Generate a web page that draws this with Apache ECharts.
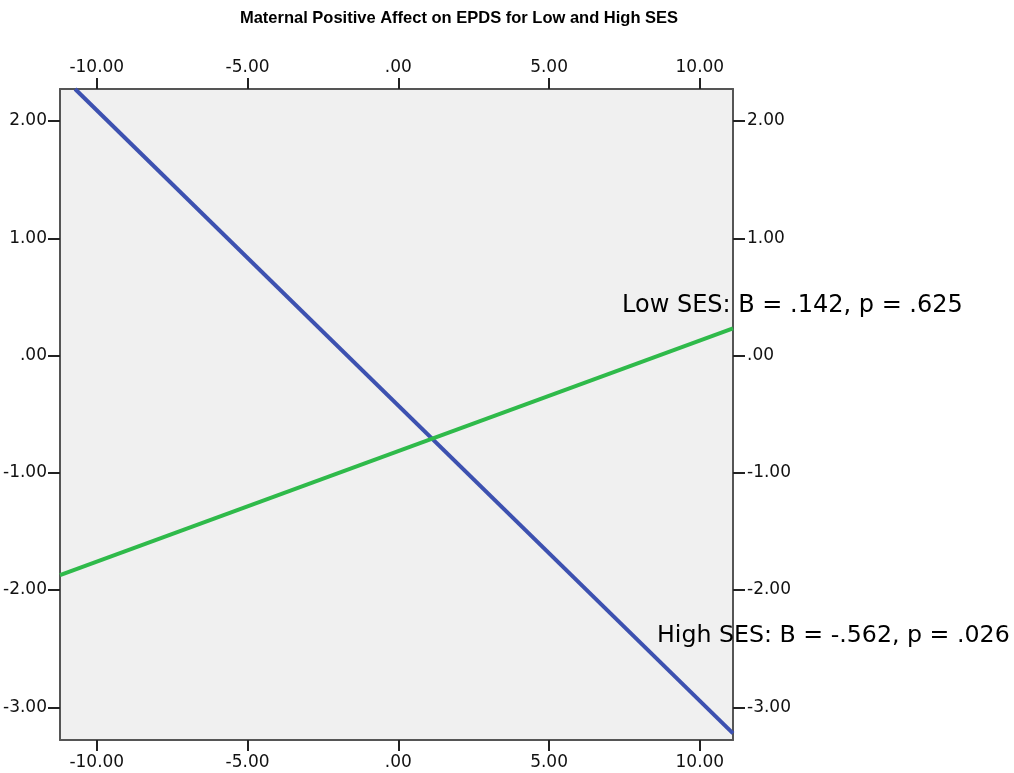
<!DOCTYPE html>
<html>
<head>
<meta charset="utf-8">
<script src="https://cdn.jsdelivr.net/npm/echarts@6/dist/echarts.min.js"></script>
<style>
  html, body { margin: 0; padding: 0; background: #fff; }
  #chart { width: 1014px; height: 773px; }
</style>
</head>
<body>
<div id="chart"></div>
<script>
  // axis ranges and ticks
  const xRange = [-11.22, 11.10];
  const yRange = [-3.279, 2.273];
  const xTicks = [-10, -5, 0, 5, 10];
  const yTicks = [2, 1, 0, -1, -2, -3];

  // fitted lines (x, y)
  const highSes = [[-10.72, 2.273], [11.10, -3.222]];
  const lowSes = [[-11.22, -1.872], [11.10, 0.232]];

  const titleText = 'Maternal Positive Affect on EPDS for Low and High SES';
  const lowLabel = 'Low SES: B = .142, p = .625';
  const highLabel = 'High SES: B = -.562, p = .026';

  const font = '"DejaVu Sans", sans-serif';
  const titleFont = '"Liberation Sans", Arial, sans-serif';

  // SPSS style: 0 -> ".00"
  const fmt = v => {
    const n = Number(v);
    if (n === 0) return '.00';
    return n.toFixed(2);
  };

  const chart = echarts.init(document.getElementById('chart'));

  const xAxisBase = (pos) => ({
    type: 'value',
    position: pos,
    min: xRange[0],
    max: xRange[1],
    axisLine: { show: true, onZero: false, lineStyle: { color: '#555', width: 2 } },
    axisTick: { show: true, customValues: xTicks, length: 11, lineStyle: { color: '#222', width: 2 } },
    axisLabel: { customValues: xTicks, formatter: fmt, color: '#111', fontSize: 17, fontFamily: font, margin: pos === 'top' ? 13 : 14 },
    splitLine: { show: false }
  });

  const yAxisBase = (pos) => ({
    type: 'value',
    position: pos,
    min: yRange[0],
    max: yRange[1],
    axisLine: { show: true, onZero: false, lineStyle: { color: '#555', width: 2 } },
    axisTick: { show: true, customValues: yTicks, length: 12, lineStyle: { color: '#222', width: 2 } },
    axisLabel: { customValues: yTicks, formatter: fmt, color: '#111', fontSize: 17, fontFamily: font, margin: pos === 'left' ? 13 : 14 },
    splitLine: { show: false }
  });

  const option = {
    backgroundColor: '#fff',
    animation: false,
    title: {
      text: titleText,
      left: 454,
      top: 5,
      textAlign: 'center',
      textStyle: { fontSize: 16.5, fontWeight: 'bold', color: '#000', fontFamily: titleFont }
    },
    grid: {
      left: 60, top: 89, right: 281, bottom: 33,
      show: true,
      backgroundColor: '#f0f0f0',
      borderWidth: 0
    },
    xAxis: [xAxisBase('top'), xAxisBase('bottom')],
    yAxis: [yAxisBase('left'), yAxisBase('right')],
    series: [
      {
        name: 'High SES',
        type: 'line',
        data: highSes,
        showSymbol: false,
        clip: true,
        lineStyle: { color: '#3d51b0', width: 4 }
      },
      {
        name: 'Low SES',
        type: 'line',
        data: lowSes,
        showSymbol: false,
        clip: true,
        lineStyle: { color: '#2fba4a', width: 4 }
      }
    ],
    graphic: [
      {
        type: 'text',
        left: 622,
        top: 294,
        z: 100,
        style: { text: lowLabel, fontSize: 24, fontFamily: font, fill: '#000' }
      },
      {
        type: 'text',
        left: 657,
        top: 624,
        z: 100,
        style: { text: highLabel, fontSize: 23.7, fontFamily: font, fill: '#000' }
      }
    ]
  };

  chart.setOption(option);
</script>
</body>
</html>
